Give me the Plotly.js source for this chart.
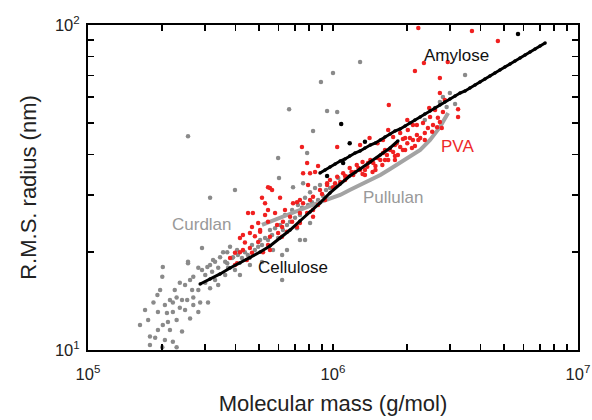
<!DOCTYPE html>
<html>
<head>
<meta charset="utf-8">
<script src="https://cdn.plot.ly/plotly-3.0.1.min.js"></script>
<style>html,body{margin:0;padding:0;background:#fff;}#chart{width:592px;height:420px;}</style>
</head>
<body>
<div id="chart"></div>
<script>
// ---- data (molecular mass g/mol, R.M.S. radius nm) ----
const curdlanM = [1.00e6,8.93e5,6.62e5,9.46e5,8.29e5,2.56e5,5.97e5,7.84e5,6.02e5,6.87e5,7.55e5,1.29e6,3.46e6,1.04e6,3.15e5,3.98e5,6.20e5,7.69e5,8.06e5,
  2.02e5,2.01e5,2.56e5,2.37e5,2.69e5,2.82e5,2.92e5,3.07e5,3.30e5,3.46e5,3.56e5,3.40e5,3.01e5,2.82e5,2.66e5,2.69e5,2.54e5,2.42e5,2.30e5,2.16e5,2.22e5,2.06e5,1.92e5,1.85e5,1.93e5,2.10e5,2.22e5,2.37e5,2.49e5,2.69e5,2.87e5,3.09e5,2.82e5,2.30e5,2.12e5,2.02e5,1.76e5,1.93e5,2.16e5,2.42e5,1.79e5,1.88e5,2.06e5,2.22e5,2.30e5,1.79e5,2.01e5,
  2.92e5,2.56e5,3.70e5,3.24e5,3.91e5,4.06e5,3.70e5,3.80e5,7.13e5,6.49e5,5.69e5,
  3.01e5,3.21e5,3.40e5,3.63e5,3.73e5,3.87e5,4.09e5,4.25e5,4.37e5,4.49e5,4.67e5,4.80e5,4.95e5,5.04e5,5.13e5,5.28e5,5.43e5,5.53e5,5.64e5,5.80e5,5.97e5,6.08e5,6.25e5,6.37e5,6.49e5,6.68e5,6.81e5,7.00e5,7.19e5,7.33e5,7.47e5,7.69e5,7.91e5,8.06e5,8.21e5,8.45e5,8.69e5,8.85e5,9.11e5,9.37e5,9.72e5,1.02e6,1.05e6,2.81e6,3.00e6,3.15e6,2.91e6,2.73e6,2.37e6,2.61e6,
  2.26e5,2.49e5,2.61e5,3.15e5,3.30e5,3.63e5,3.98e5,4.17e5,2.61e5,1.97e5,1.71e5,1.63e5,3.15e5,4.58e5,5.13e5,6.20e5,7.33e5];
const curdlanR = [71.2,66.8,55.1,54.4,47.2,45.5,39.0,40.4,33.8,31.7,32.6,76.9,70.16,54.0,29.4,31.07,16.42,21.80,24.6,
  18.0,16.8,18.5,16.1,16.8,17.9,17.63,18.0,18.7,19.3,20.0,15.85,16.1,15.30,15.30,14.5,14.25,14.25,14.5,14.25,14.0,13.76,14.77,14.0,13.1,13.0,13.1,13.5,13.28,13.76,14.0,14.0,13.1,12.37,12.2,11.94,12.37,11.52,11.52,11.4,11.0,10.9,10.73,10.6,10.2,10.36,10.2,
  20.6,18.7,18.5,18.92,19.3,20.31,20.0,20.8,23.7,20.31,20.31,
  17.02,17.4,17.9,18.7,17.9,19.2,19.61,19.2,20.0,19.61,21.05,20.31,20.8,21.80,21.05,22.1,21.80,23.40,22.59,23.7,22.1,24.25,23.40,26.03,24.25,24.8,26.97,25.5,27.94,26.03,27.4,29.4,27.94,30.6,28.5,31.5,28.94,32.19,29.8,31.07,31.5,32.19,33.8,60.0,61.8,57.1,55.9,58.0,51.02,55.5,
  15.30,15.85,16.42,15.5,16.42,17.02,17.63,17.02,12.5,15.30,13.28,11.94,18.27,18.27,18.65,19.61,21.80];

const pullulanM = [5.13e5,5.53e5,6.08e5,6.68e5,7.33e5,8.06e5,8.85e5,9.72e5,1.07e6,1.17e6,1.29e6,1.42e6,1.56e6,1.71e6,1.88e6,2.06e6,2.27e6,2.49e6,2.73e6,2.95e6];
const pullulanR = [24.25,24.77,25.48,26.22,26.97,27.74,28.53,29.15,29.99,31.07,32.19,33.35,34.55,36.05,37.62,39.25,41.25,44.28,48.5,53.6];

const pvaM = [2.23e6,3.69e6,4.71e6,2.16e6,2.73e6,2.94e6,2.35e6,1.69e6,2.47e6,3.24e6,3.24e6,1.04e6,1.41e6,1.29e6,7.47e5,7.84e5,8.69e5,7.55e5,8.06e5,9.46e5,5.53e5,
  1.68e6,2.01e6,2.12e6,2.27e6,2.06e6,1.93e6,1.82e6,1.71e6,1.60e6,1.52e6,1.42e6,1.32e6,1.25e6,1.17e6,1.10e6,1.04e6,9.72e5,1.00e6,1.07e6,1.14e6,1.21e6,1.29e6,1.38e6,1.46e6,1.56e6,1.66e6,1.76e6,1.88e6,2.01e6,2.12e6,2.20e6,2.73e6,2.86e6,2.61e6,2.73e6,2.78e6,2.49e6,2.33e6,2.20e6,2.02e6,1.88e6,1.76e6,1.60e6,1.52e6,
  1.12e6,1.23e6,1.35e6,1.49e6,1.63e6,1.79e6,1.97e6,2.16e6,2.37e6,2.54e6,2.66e6,2.44e6,1.35e6,1.45e6,1.79e6,
  1.02e6,1.12e6,1.19e6,1.27e6,1.32e6,1.39e6,1.49e6,1.59e6,1.68e6,1.84e6,1.93e6,2.10e6,2.23e6,2.37e6,2.56e6,2.68e6,2.81e6,1.63e6,1.79e6,1.97e6,
  5.43e5,5.64e5,6.08e5,5.28e5,5.13e5,4.50e5,4.71e5,5.28e5,5.80e5,4.95e5,5.43e5,5.91e5,6.20e5,4.29e5,4.58e5,5.04e5,4.37e5,4.17e5,4.58e5,5.43e5,5.18e5,3.98e5,4.45e5,6.87e5,7.33e5,8.29e5,8.85e5,9.46e5,7.84e5,8.29e5,7.33e5,6.68e5,6.19e5,8.45e5,7.91e5,7.13e5,7.55e5,8.06e5,9.02e5,7.33e5,8.29e5,5.43e5,6.25e5,6.81e5,7.13e5,5.04e5,4.67e5,4.17e5,4.95e5,5.53e5,5.97e5,6.49e5,3.98e5,4.29e5,4.67e5,5.53e5,4.06e5,3.80e5,4.80e5,6.37e5,9.28e5,8.69e5];
const pvaR = [97.9,95.8,89.3,72.2,68.7,76.9,76.4,56.73,55.5,55.1,52.1,42.1,44.9,42.73,42.1,37.6,36.8,35.0,35.0,32.6,31.5,
  47.53,51.02,49.24,44.9,44.9,44.6,43.3,41.25,40.4,39.0,38.43,37.9,37.09,36.3,35.0,34.1,33.35,31.7,32.9,34.1,34.55,35.80,36.6,37.6,38.43,39.81,40.7,42.1,43.3,44.28,45.87,61.8,58.78,54.76,50.3,48.2,52.1,49.9,49.24,47.53,46.5,45.2,44.28,43.3,
  33.35,35.3,35.80,36.8,38.43,39.5,41.25,42.4,44.28,46.9,48.5,48.2,34.55,35.3,38.43,
  32.6,34.3,35.3,36.3,34.8,37.6,35.80,37.09,38.43,39.81,41.25,41.8,44.28,46.5,49.24,51.8,53.99,41.25,42.73,44.9,
  31.7,31.07,29.4,28.3,29.4,26.4,26.4,26.03,26.4,24.6,24.8,24.25,23.9,22.59,22.9,23.1,21.4,20.0,20.6,21.05,20.0,18.27,18.92,28.3,28.94,29.6,31.07,32.19,26.4,25.7,24.6,25.7,22.3,35.3,32.19,28.5,28.3,28.94,30.2,26.4,26.97,26.97,24.8,24.8,23.9,23.40,23.9,22.1,21.5,22.3,22.9,23.1,19.9,20.31,19.9,20.31,18.5,19.2,22.4,26.97,28.94,27.94];

const celluloseM = [2.87e5,3.15e5,3.46e5,3.80e5,4.17e5,4.58e5,5.04e5,5.53e5,6.08e5,6.68e5,7.33e5,8.06e5,8.85e5,9.72e5,1.07e6,1.17e6,1.29e6,1.42e6,1.56e6,1.71e6,1.84e6];
const celluloseR = [15.96,16.54,17.14,17.88,18.53,19.19,20.02,20.90,22.11,23.40,24.94,26.59,28.34,30.42,32.42,34.31,36.05,37.89,39.81,41.84,43.97];

const amyloseM = [8.85e5,9.28e5,9.72e5,1.02e6,1.07e6,1.12e6,1.17e6,1.23e6,1.29e6,1.35e6,1.42e6,1.49e6,1.56e6,1.63e6,1.71e6,1.79e6,1.88e6,1.97e6,2.06e6,2.16e6,2.27e6,2.37e6,2.49e6,2.61e6,2.73e6,2.86e6,3.00e6,3.15e6,3.30e6,3.46e6,3.62e6,3.80e6,3.98e6,4.17e6,4.37e6,4.58e6,4.80e6,5.03e6,5.28e6,5.53e6,5.80e6,6.08e6,6.37e6,6.68e6,7.00e6,7.34e6];
const amyloseR = [35.04,35.80,36.57,37.35,38.16,38.70,39.53,40.38,40.96,41.84,42.73,43.34,44.28,45.22,46.20,47.19,47.87,48.89,49.94,51.02,52.10,53.23,54.37,55.54,56.73,57.95,59.20,60.46,61.76,62.66,64.00,65.36,66.78,68.21,69.67,71.16,72.70,74.25,75.84,77.49,79.16,80.84,82.59,84.36,86.16,88.01];

const blackExtraM = [5.69e6,1.08e6,1.17e6,1.35e6,1.10e6,9.46e5];
const blackExtraR = [93.8,49.6,43.3,43.7,37.6,34.3];

// ticks: powers of ten labelled, intermediate digits unlabelled
const xTickVals = [1e5,2e5,3e5,4e5,5e5,6e5,7e5,8e5,9e5,1e6,2e6,3e6,4e6,5e6,6e6,7e6,8e6,9e6,1e7];
const xTickText = ['10<sup>5</sup>','','','','','','','','','10<sup>6</sup>','','','','','','','','','10<sup>7</sup>'];
const yTickVals = [10,20,30,40,50,60,70,80,90,100];
const yTickText = ['10<sup>1</sup>','','','','','','','','','10<sup>2</sup>'];

const labels = [
  {text:'Amylose', M:3.18e6, R:80.4, color:'#111111'},
  {text:'PVA', M:3.21e6, R:42.2, color:'#ee2a2a'},
  {text:'Pullulan', M:1.76e6, R:29.4, color:'#999999'},
  {text:'Curdlan', M:2.92e5, R:24.4, color:'#999999'},
  {text:'Cellulose', M:6.87e5, R:17.9, color:'#111111'}
];

const FONT = '"Liberation Sans", Arial, Helvetica, sans-serif';

const traces = [
  {x: curdlanM, y: curdlanR, mode:'markers', type:'scatter', name:'Curdlan',
   marker:{color:'#8a8a8a', size:4.5}},
  {x: pullulanM, y: pullulanR, mode:'lines', type:'scatter', name:'Pullulan',
   line:{color:'#a3a3a3', width:4}},
  {x: pvaM, y: pvaR, mode:'markers', type:'scatter', name:'PVA',
   marker:{color:'#f02020', size:4.5}},
  {x: celluloseM, y: celluloseR, mode:'lines+markers', type:'scatter', name:'Cellulose',
   line:{color:'#000000', width:3}, marker:{color:'#000000', size:3.5}},
  {x: amyloseM, y: amyloseR, mode:'lines+markers', type:'scatter', name:'Amylose',
   line:{color:'#000000', width:3}, marker:{color:'#000000', size:3.5}},
  {x: blackExtraM, y: blackExtraR, mode:'markers', type:'scatter', name:'Amylose extra',
   marker:{color:'#000000', size:4.5}}
];

const axisCommon = {
  type:'log', showgrid:false, zeroline:false, showline:true, linecolor:'#000', linewidth:2,
  mirror:'ticks', ticks:'inside', ticklen:6, tickwidth:1.6, tickcolor:'#000',
  tickmode:'array', tickfont:{family:FONT, size:16.5, color:'#222'}
};

const layout = {
  width:592, height:420,
  margin:{l:88, r:14, t:25, b:70},
  paper_bgcolor:'#fff', plot_bgcolor:'#fff',
  showlegend:false,
  font:{family:FONT, color:'#222'},
  xaxis: Object.assign({}, axisCommon, {
    range:[5,7], tickvals:xTickVals, ticktext:xTickText, ticklabelstandoff:8,
    title:{text:'Molecular mass (g/mol)', font:{family:FONT, size:22, color:'#222'}, standoff:14}
  }),
  yaxis: Object.assign({}, axisCommon, {
    range:[1,2], tickvals:yTickVals, ticktext:yTickText, ticklabelstandoff:3,
    title:{text:'R.M.S. radius (nm)', font:{family:FONT, size:22, color:'#222'}, standoff:12}
  }),
  annotations: labels.map(l => ({
    x: Math.log10(l.M), y: Math.log10(l.R), xref:'x', yref:'y',
    text: l.text, showarrow:false, font:{family:FONT, size:17, color:l.color}
  }))
};

Plotly.newPlot('chart', traces, layout, {displayModeBar:false, staticPlot:true});
</script>
</body>
</html>
